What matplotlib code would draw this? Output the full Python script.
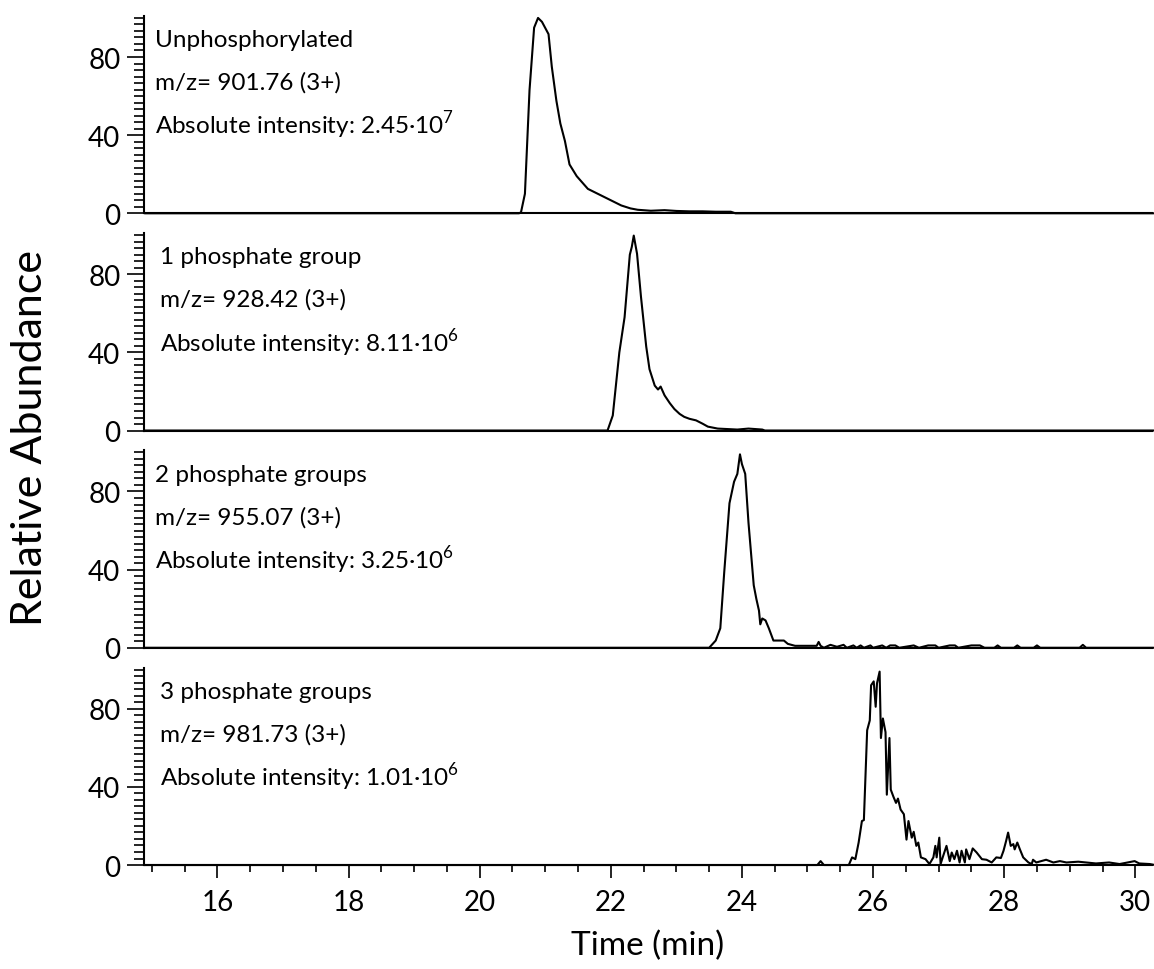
import matplotlib
matplotlib.use('Agg')
import matplotlib.pyplot as plt
from matplotlib.ticker import MultipleLocator, FixedLocator

plt.rcParams['font.family'] = ['Lato', 'DejaVu Sans']
plt.rcParams['mathtext.fontset'] = 'custom'
plt.rcParams['mathtext.rm'] = 'Lato'

# chromatogram traces (time in min, relative abundance in %)
t_unphos = [14.9, 20.6, 20.63, 20.69, 20.76, 20.83, 20.89, 20.95, 21.05, 21.1, 21.17, 21.23,
            21.3, 21.37, 21.48, 21.65, 21.86, 22.01, 22.16, 22.3, 22.41, 22.61, 22.82, 23.0,
            23.2, 23.4, 23.6, 23.83, 23.9, 30.3]
y_unphos = [0, 0, 0.5, 10, 63, 95, 100, 98, 91.7, 75, 57.6, 46,
            37, 25, 19, 12.5, 9, 6.5, 4, 2.5, 1.8, 1.3, 1.6, 1.2,
            1.0, 1.0, 0.8, 0.8, 0, 0]

t_1p = [14.9, 21.95, 22.03, 22.13, 22.21, 22.29, 22.32, 22.35, 22.4, 22.46, 22.54, 22.59,
        22.67, 22.72, 22.76, 22.82, 22.9, 22.97, 23.05, 23.12, 23.2, 23.3, 23.4, 23.48,
        23.63, 23.93, 24.1, 24.31, 24.35, 30.3]
y_1p = [0, 0, 7.7, 40, 58, 90, 94, 99.8, 90.5, 68.5, 43, 31.4,
        23, 21, 22.5, 18, 14, 11, 8.5, 7, 6, 5.2, 3.5, 2,
        1, 0.5, 1.0, 0.5, 0, 0]

t_2p = [14.9, 23.5, 23.6, 23.67, 23.73, 23.81, 23.88, 23.93, 23.97, 24.0, 24.05, 24.1,
        24.18, 24.22, 24.26, 24.28, 24.31, 24.36, 24.41, 24.48, 24.64, 24.7, 24.81, 25.14,
        25.17, 25.2, 25.25, 25.35, 25.45, 25.55, 25.6, 25.7, 25.75, 25.81, 25.86, 25.96,
        26.0, 26.14, 26.2, 26.26, 26.34, 26.4, 26.62, 26.7, 26.84, 26.95, 27.0, 27.17,
        27.25, 27.3, 27.5, 27.63, 27.7, 27.85, 27.9, 27.95, 28.15, 28.2, 28.25, 28.45,
        28.5, 28.55, 29.15, 29.2, 29.25, 30.3]
y_2p = [0, 0, 3.7, 10, 38.7, 74, 85, 89, 99, 94, 89, 64,
        32, 25, 19, 12, 15, 14, 10, 3.7, 3.7, 2, 1, 1,
        3, 1, 0, 1.5, 0.5, 1.5, 0, 1.2, 0, 1.2, 0, 1.2,
        0, 1.2, 0, 1.2, 1.2, 0, 1.2, 0, 1.2, 1.2, 0, 1.2,
        1.2, 0, 1.2, 1.2, 0, 0, 1.2, 0, 0, 1.2, 0, 0,
        1.2, 0, 0, 1.5, 0, 0]

t_3p = [14.9, 25.15, 25.2, 25.25, 25.63, 25.68, 25.73, 25.78, 25.83, 25.86, 25.91, 25.95,
        25.97, 26.01, 26.04, 26.06, 26.1, 26.12, 26.15, 26.19, 26.21, 26.25, 26.27, 26.31,
        26.35, 26.38, 26.42, 26.47, 26.51, 26.54, 26.59, 26.62, 26.66, 26.69, 26.73, 26.8,
        26.86, 26.92, 26.95, 26.97, 27.01, 27.03, 27.07, 27.12, 27.17, 27.2, 27.24, 27.28,
        27.32, 27.35, 27.4, 27.42, 27.47, 27.52, 27.58, 27.66, 27.73, 27.81, 27.88, 27.95,
        27.99, 28.03, 28.06, 28.1, 28.14, 28.16, 28.2, 28.24, 28.29, 28.37, 28.42, 28.44,
        28.49, 28.64, 28.75, 28.85, 28.95, 29.13, 29.4, 29.6, 29.76, 29.99, 30.06, 30.22, 30.3]
y_3p = [0, 0, 2, 0, 0, 3.9, 3, 11.5, 22.5, 23, 69, 74,
        92, 94, 81, 93, 99, 65, 75, 68, 36, 65, 38.6, 35,
        31.8, 34, 28.4, 26, 13, 22.5, 14, 17, 9.8, 11.5, 3.9, 3,
        0.5, 3.9, 9.8, 3.9, 14, 0.5, 4.7, 9.8, 2, 6.4, 3, 7.3,
        1.3, 7.3, 1.3, 8, 3, 8.5, 6.4, 3, 2.7, 1.3, 3.9, 3.6,
        7.3, 12.4, 16.6, 9.8, 10.7, 8, 11.5, 8, 3.9, 1.3, 0.5, 2.7,
        1.3, 2.7, 1.3, 2, 1.3, 1.7, 0.8, 1.3, 0.5, 2, 0.8, 0.5, 0]

traces = [(t_unphos, y_unphos), (t_1p, y_1p), (t_2p, y_2p), (t_3p, y_3p)]

labels = [
    ['Unphosphorylated', 'm/z= 901.76 (3+)', r'Absolute intensity: 2.45·10$^{\mathregular{7}}$'],
    ['1 phosphate group', 'm/z= 928.42 (3+)', r'Absolute intensity: 8.11·10$^{\mathregular{6}}$'],
    ['2 phosphate groups', 'm/z= 955.07 (3+)', r'Absolute intensity: 3.25·10$^{\mathregular{6}}$'],
    ['3 phosphate groups', 'm/z= 981.73 (3+)', r'Absolute intensity: 1.01·10$^{\mathregular{6}}$'],
]
label_x = [0.011, 0.016, 0.011, 0.016]

fig, axes = plt.subplots(4, 1, figsize=(11.54, 9.70), dpi=100, sharex=True,
                         gridspec_kw=dict(left=0.1248, right=0.998, top=0.9825,
                                          bottom=0.1072, hspace=0.101))

minor_y = [i * 20 / 6 for i in range(31) if i % 12 != 0]

for i, ax in enumerate(axes):
    t, y = traces[i]
    ax.plot(t, y, color='black', lw=1.5, clip_on=False)
    ax.set_xlim(14.88, 30.25)
    ax.set_ylim(0, 101)
    ax.spines['top'].set_visible(False)
    ax.spines['right'].set_visible(False)
    ax.spines['left'].set_linewidth(1.5)
    ax.spines['bottom'].set_linewidth(1.5)
    ax.yaxis.set_major_locator(FixedLocator([0, 40, 80]))
    ax.yaxis.set_minor_locator(FixedLocator(minor_y))
    ax.tick_params(axis='y', which='major', length=12, width=1.2, labelsize=20, pad=5)
    ax.tick_params(axis='y', which='minor', length=7.5, width=1.2)
    for j, line in enumerate(labels[i]):
        ax.text(label_x[i], 0.88 - j * 0.215, line, transform=ax.transAxes,
                ha='left', va='center', fontsize=17.5)
    if i < 3:
        ax.tick_params(axis='x', which='both', bottom=False, labelbottom=False)

ax = axes[-1]
ax.xaxis.set_major_locator(MultipleLocator(2))
ax.xaxis.set_minor_locator(MultipleLocator(0.5))
ax.tick_params(axis='x', which='major', length=9.5, width=1.2, labelsize=20, pad=8)
ax.tick_params(axis='x', which='minor', length=5, width=1.2)
ax.set_xlabel('Time (min)', fontsize=24, labelpad=10)

fig.text(0.026, 0.548, 'Relative Abundance', rotation=90, ha='center', va='center', fontsize=31)

fig.savefig('out.png', dpi=100)
